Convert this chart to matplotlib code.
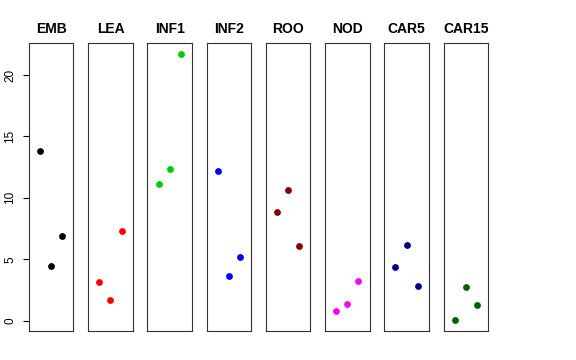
import matplotlib
matplotlib.use("Agg")
import matplotlib.pyplot as plt

plt.rcParams['font.family'] = ['Liberation Sans', 'DejaVu Sans']

# tissues and their three replicate values
tissues = ["EMB", "LEA", "INF1", "INF2", "ROO", "NOD", "CAR5", "CAR15"]
colors = ["black", "red", "#00CD00", "blue", "#8B0000", "magenta", "#00008B", "#006400"]
emb = [13.8, 4.47, 6.9]
lea = [3.16, 1.69, 7.29]
inf1 = [11.13, 12.35, 21.74]
inf2 = [12.16, 3.65, 5.17]
roo = [8.87, 10.61, 6.1]
nod = [0.76, 1.31, 3.24]
car5 = [4.38, 6.18, 2.83]
car15 = [0.02, 2.75, 1.28]
values = [emb, lea, inf1, inf2, roo, nod, car5, car15]
replicate = [1, 2, 3]

fig, axes = plt.subplots(1, 8, figsize=(5.76, 3.6), dpi=100, sharey=True)
fig.subplots_adjust(left=29/576, right=488/576, bottom=29/360, top=317/360, wspace=0.333)

lo = min(min(v) for v in values)
hi = max(max(v) for v in values)
r = hi - lo

for i, ax in enumerate(axes):
    ax.scatter(replicate, values[i], s=24, color=colors[i], linewidths=0, zorder=3)
    ax.set_xlim(0, 4)
    ax.set_ylim(lo - 0.04 * r, hi + 0.04 * r)
    ax.set_title(tissues[i], fontsize=10, fontweight='bold', pad=7)
    ax.set_xticks([])
    for s in ax.spines.values():
        s.set_color('#333333')
        s.set_linewidth(0.8)
    if i == 0:
        ax.set_yticks([0, 5, 10, 15, 20])
        ax.tick_params(axis='y', direction='out', length=4, width=0.8,
                       color='black', pad=5, labelsize=8.5)
        for lab in ax.get_yticklabels():
            lab.set_rotation(90)
            lab.set_va('center')
    else:
        ax.tick_params(axis='y', left=False, labelleft=False)

fig.savefig("out.png", dpi=100)
